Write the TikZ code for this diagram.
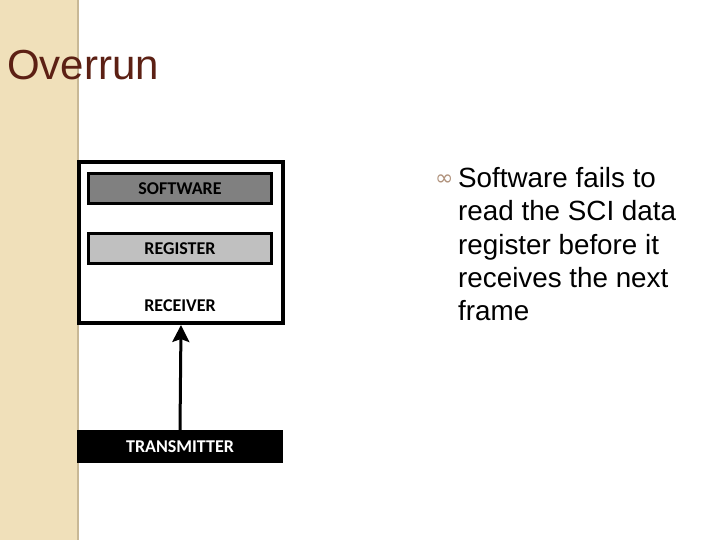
\documentclass[tikz,border=0pt]{standalone}
\usepackage{fontspec}
\setmainfont{Liberation Sans}
\newfontfamily\boxfont{Carlito}
\newfontfamily\symfont{DejaVu Sans}
\usepackage{tikz}
\usetikzlibrary{arrows.meta}
\usetikzlibrary{positioning}

\definecolor{StripColor}{RGB}{240,224,186}
\definecolor{StripEdge}{RGB}{200,184,150}
\definecolor{TitleColor}{RGB}{92,32,20}
\definecolor{BulletColor}{RGB}{176,146,124}
\definecolor{SoftGray}{RGB}{128,128,128}
\definecolor{RegGray}{RGB}{192,192,192}

\tikzset{
  layer/.style = {draw=black, line width=3pt, minimum width=183pt, minimum height=30pt, inner sep=0pt, font=\boxfont\bfseries\fontsize{18}{20}\selectfont},
  flow/.style = {line width=3pt, -{Stealth[length=17pt, width=17pt, inset=3pt]}}
}

\begin{document}
\begin{tikzpicture}[x=1pt, y=-1pt]
  \useasboundingbox (0,0) rectangle (720,540);
  % side strip
  \fill[StripColor] (0,0) rectangle (78,540);
  \draw[StripEdge, line width=1.5pt] (78,0) -- (78,540);

  \node[anchor=base west, inner sep=0pt, text=TitleColor, font=\fontsize{42}{46}\selectfont] (title) at (7,80) {Overrun};

  % receiver unit
  \node[draw=black, line width=4pt, minimum width=204pt, minimum height=161pt, inner sep=0pt] (system) at (181,242.5) {};
  \node[layer, fill=SoftGray] (software) at (180,188.5) {SOFTWARE};
  \node[layer, fill=RegGray] (register) at (180,248.5) {REGISTER};
  \node[inner sep=0pt, font=\boxfont\bfseries\fontsize{18}{20}\selectfont] (receiver) at (180,306) {RECEIVER};

  \node[fill=black, text=white, minimum width=206pt, minimum height=33pt, inner sep=0pt, font=\boxfont\bfseries\fontsize{18}{20}\selectfont] (transmitter) at (180,446.5) {TRANSMITTER};

  \draw[flow] (transmitter.north) -- (system.south);

  % bullet text
  \node[anchor=west, inner sep=0pt, text=BulletColor, font=\symfont\fontsize{22}{22}\selectfont] (bullet) at (435,180) {∞};
  \node[anchor=north west, inner sep=0pt, align=left, font=\fontsize{27.8}{33.4}\selectfont] (point) at (458,167) {Software fails to\\read the SCI data\\register before it\\receives the next\\frame};
\end{tikzpicture}
\end{document}
